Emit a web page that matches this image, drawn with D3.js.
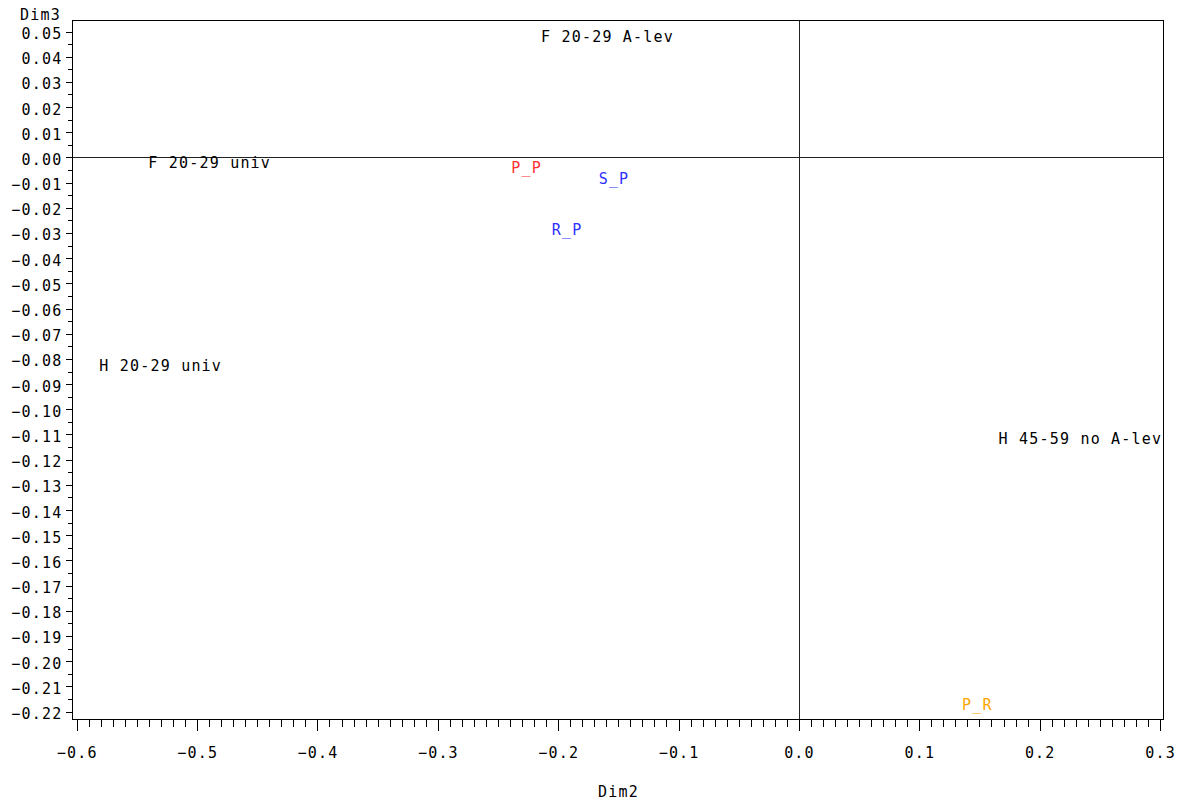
<!DOCTYPE html>
<html>
<head>
<meta charset="utf-8">
<script src="https://cdn.jsdelivr.net/npm/d3@7"></script>
<style>
  html, body { margin: 0; padding: 0; background: #fff; }
  svg { display: block; }
  text { font-family: "DejaVu Sans Mono", "Liberation Mono", monospace; font-size: 15px; letter-spacing: 1.2px; fill: #000; }
</style>
</head>
<body>
<svg id="chart" width="1188" height="805"></svg>
<script>
// ---- Data (label centres in Dim2 / Dim3 coordinates) ----
const labels = ["F 20-29 A-lev", "F 20-29 univ", "P_P", "S_P", "R_P", "H 20-29 univ", "H 45-59 no A-lev", "P_R"];
const dim2   = [-0.1595, -0.490, -0.2267, -0.1541, -0.1931, -0.5307, 0.2334, 0.1478];
const dim3   = [0.0479, -0.0022, -0.0040, -0.0086, -0.0286, -0.0828, -0.1117, -0.2174];
const colors = ["#000000", "#000000", "#ff3030", "#3030ff", "#3030ff", "#000000", "#000000", "#ffa500"];

const xTicks = [-0.6, -0.5, -0.4, -0.3, -0.2, -0.1, 0.0, 0.1, 0.2, 0.3];
const yTicks = d3.range(-22, 6).map(d => d / 100);
const xTitle = "Dim2";
const yTitle = "Dim3";

// ---- Layout ----
const svg = d3.select("#chart");
const frame = { left: 72.5, right: 1163.5, top: 20.5, bottom: 719.5 };

const x = d3.scaleLinear().domain([-0.6, 0.3]).range([76.7, 1160]);
const y = d3.scaleLinear().domain([0.05, -0.22]).range([31.5, 711.5]);

// Frame
svg.append("rect")
  .attr("x", frame.left).attr("y", frame.top)
  .attr("width", frame.right - frame.left).attr("height", frame.bottom - frame.top)
  .attr("fill", "none").attr("stroke", "#000").attr("stroke-width", 1);

// Reference lines at 0
svg.append("line")
  .attr("x1", frame.left).attr("x2", frame.right)
  .attr("y1", Math.round(y(0)) + 0.5).attr("y2", Math.round(y(0)) + 0.5)
  .attr("stroke", "#222").attr("stroke-width", 1);
svg.append("line")
  .attr("x1", Math.round(x(0)) + 0.5).attr("x2", Math.round(x(0)) + 0.5)
  .attr("y1", frame.top).attr("y2", frame.bottom)
  .attr("stroke", "#222").attr("stroke-width", 1);

// X axis ticks
const xMinor = d3.range(-60, 31).map(d => d / 100).filter(v => Math.abs(v * 10 - Math.round(v * 10)) > 1e-6);
svg.append("g").selectAll("line").data(xMinor).join("line")
  .attr("x1", d => Math.round(x(d)) + 0.5).attr("x2", d => Math.round(x(d)) + 0.5)
  .attr("y1", frame.bottom).attr("y2", frame.bottom + 7.5)
  .attr("stroke", "#000");
svg.append("g").selectAll("line").data(xTicks).join("line")
  .attr("x1", d => Math.round(x(d)) + 0.5).attr("x2", d => Math.round(x(d)) + 0.5)
  .attr("y1", frame.bottom).attr("y2", frame.bottom + 11.5)
  .attr("stroke", "#000");
const fx = d3.format(".1f");
svg.append("g").selectAll("text").data(xTicks).join("text")
  .attr("x", d => x(d) + 0.6).attr("y", 758)
  .attr("text-anchor", "middle")
  .text(d => fx(d));

// Y axis ticks
const yMinor = d3.range(-215, 50, 10).map(d => d / 1000);
svg.append("g").selectAll("line").data(yMinor).join("line")
  .attr("x1", 68).attr("x2", frame.left)
  .attr("y1", d => Math.round(y(d)) + 0.5).attr("y2", d => Math.round(y(d)) + 0.5)
  .attr("stroke", "#000");
svg.append("g").selectAll("line").data(yTicks).join("line")
  .attr("x1", 66).attr("x2", frame.left)
  .attr("y1", d => Math.round(y(d)) + 0.5).attr("y2", d => Math.round(y(d)) + 0.5)
  .attr("stroke", "#000");
const fy = d3.format(".2f");
svg.append("g").selectAll("text").data(yTicks).join("text")
  .attr("x", 62.5).attr("y", d => y(d) + 7.5)
  .attr("text-anchor", "end")
  .text(d => fy(d));

// Axis titles
svg.append("text").attr("x", 20).attr("y", 20).text(yTitle);
svg.append("text").attr("x", 598).attr("y", 797).text(xTitle);

// Point labels
svg.append("g").selectAll("text").data(labels).join("text")
  .attr("x", (d, i) => x(dim2[i]) + 0.6)
  .attr("y", (d, i) => y(dim3[i]) + 5.3)
  .attr("text-anchor", "middle")
  .attr("fill", (d, i) => colors[i])
  .style("fill", (d, i) => colors[i])
  .text(d => d);
</script>
</body>
</html>
